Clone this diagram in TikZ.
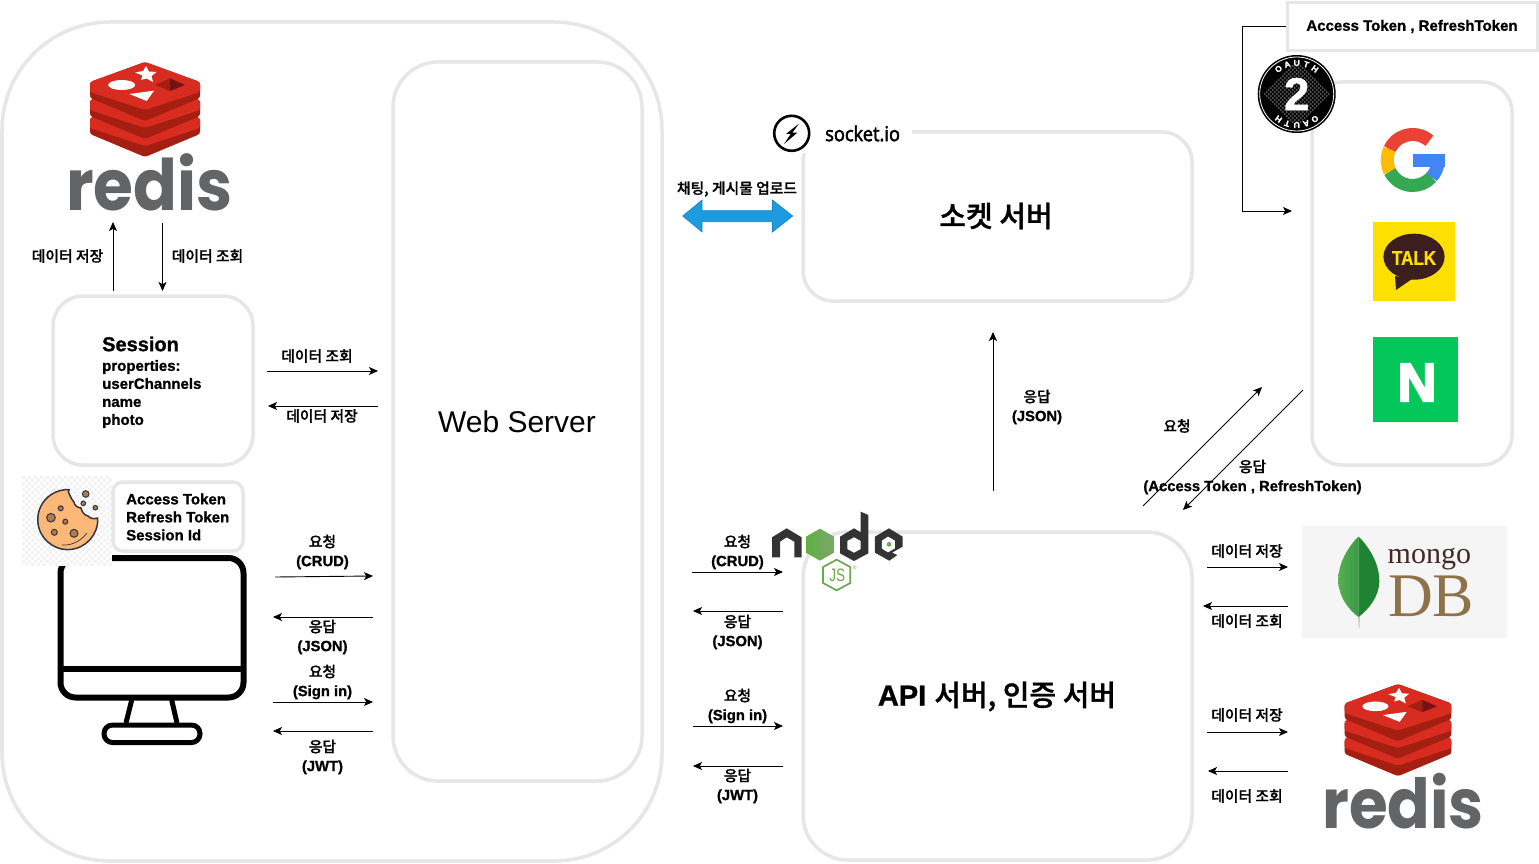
\documentclass[tikz,border=0pt]{standalone}
\usepackage{fontspec}
\usepackage{graphicx}
\usetikzlibrary{arrows.meta,calc}
\setmainfont{Liberation Sans}[BoldFeatures={FakeBold=1}]
\newfontfamily\kr{Noto Sans CJK KR}[BoldFont={Noto Sans CJK KR Medium},BoldFeatures={FakeBold=1}]
\newfontfamily\popp{Poppins}
\newfontfamily\sock{Open Sans}[FakeBold=2.5]
\newfontfamily\serifl{Liberation Serif}
\newfontfamily\nfont{Liberation Sans Bold}[FakeBold=4]
\newcommand{\fs}[2]{\fontsize{#1}{#2}\selectfont}
\definecolor{boxgrey}{HTML}{E6E6E6}
\definecolor{rred}{HTML}{D82C20}
\definecolor{rdark}{HTML}{A41E11}
\definecolor{rdarker}{HTML}{741113}
\definecolor{rgrey}{HTML}{636466}
\definecolor{nodedark}{HTML}{333333}
\definecolor{nodegreen}{HTML}{6BA84F}
\definecolor{nodeleft}{HTML}{5DB13F}
\definecolor{noderight}{HTML}{7FA56E}
\definecolor{chip}{HTML}{B57A4A}
\definecolor{cookieline}{HTML}{2F3542}
\definecolor{cookiefill}{HTML}{FDB777}
\definecolor{kyellow}{HTML}{FCE000}
\definecolor{kbrown}{HTML}{3C1E1E}
\definecolor{ngreen}{HTML}{03C75A}
\definecolor{mbg}{HTML}{F5F5F5}
\definecolor{mbrown}{HTML}{3F2A26}
\definecolor{mtan}{HTML}{8E7349}
\definecolor{leafl}{HTML}{58AE52}
\definecolor{leafm}{HTML}{3A9A44}
\definecolor{leafr}{HTML}{1F8334}
\definecolor{arrowblue}{HTML}{1C9CDE}
\tikzset{
  x=1pt,y=-1pt,
  roundbox/.style={draw=boxgrey,line width=3.5pt,fill=none},
  conn/.style={draw=black,line width=0.9pt,-{Stealth[length=9pt,width=8pt,inset=2.2pt]}},
  lbl/.style={inner sep=0pt,align=center,yshift=-1pt,font=\fs{14.8}{19}\bfseries},
  lblone/.style={inner sep=0pt,align=center,font=\fs{14.8}{19}\bfseries},
  leftlbl/.style={inner sep=0pt,align=left,anchor=west,font=\fs{15}{18}\bfseries},
  redistext/.style={inner sep=0pt,anchor=base,text=rgrey},
}
\newcommand{\arr}[5]{\coordinate (#1a) at (#2,#3);\coordinate (#1b) at (#4,#5);\draw[conn] (#1a) -- (#1b);}
\newcommand{\rediscube}[3]{%
\begin{scope}[shift={(#1,#2)},scale=#3]
  \foreach \d in {36,18,0}{
    \fill[rdark,rounded corners=2.5pt] (0,\d-1) -- (55,\d+19) -- (55,\d+35) -- (0,\d+58) -- (-55,\d+35) -- (-55,\d+19) -- cycle;
    \fill[rred,rounded corners=2.5pt] (0,\d-1) -- (55,\d+19) -- (55,\d+29) -- (0,\d+47) -- (-55,\d+29) -- (-55,\d+19) -- cycle;
  }
  \fill[white] (-23.3,22) ellipse (13.5 and 5);
  \fill[white] (-15.7,31) -- (9,27.7) -- (1.7,38) -- cycle;
  \fill[white] (1,3) -- (4,8.5) -- (11.5,9) -- (6.5,13) -- (8,19) -- (1.5,15.5) -- (-4,17) -- (-2.5,12.5) -- (-10,9.5) -- (-2,8) -- cycle;
  \fill[rdark] (10,22) -- (25,15.3) -- (25,28) -- cycle;
  \fill[rdarker] (25,15.3) -- (40,22) -- (25,28) -- cycle;
\end{scope}}
\begin{document}
\begin{tikzpicture}
\useasboundingbox (0,0) rectangle (1539,864);
\fill[white] (0,0) rectangle (1539,864);

% main rounded containers
\draw[roundbox,rounded corners=108pt] (2,22) rectangle (662,861);
\draw[roundbox,rounded corners=45pt] (393,62) rectangle (642,781);
\draw[roundbox,rounded corners=30pt] (53,296) rectangle (253,465);
\draw[roundbox,rounded corners=30pt] (803,132) rectangle (1192,301);
\draw[roundbox,rounded corners=45pt] (803,532) rectangle (1192,860);
\draw[roundbox,rounded corners=30pt] (1312,82) rectangle (1512,465);

% monitor
\draw[line width=6pt,rounded corners=15pt] (60.5,558) rectangle (243.5,697.5);
\draw[line width=6.5pt] (60,669) -- (244,669);
\draw[line width=5pt] (131.7,700) -- (126,723);
\draw[line width=5pt] (171.7,700) -- (177,723);
\draw[line width=5pt,rounded corners=8.5pt] (104,725) rectangle (200,742.5);

% cookie background (checker)
\fill[white] (22,476) rectangle (112,566);
\foreach \i in {0,...,29}{\foreach \j in {0,...,29}{
  \pgfmathparse{int(mod(\i+\j,2))}
  \ifnum\pgfmathresult=0 \fill[black!5] (22+3*\i,476+3*\j) rectangle ++(3,3);\fi
}}
% cookie
\draw[cookieline,fill=cookiefill,line width=1.5pt,line join=round]
  (68.3,491.7) .. controls (70,496) and (72,500) .. (74,502)
  .. controls (74,505) and (78,508) .. (81,508)
  .. controls (82,512) and (84,515) .. (88,516)
  .. controls (91,519) and (94,519) .. (97.7,518)
  arc[start angle=3,end angle=-273,radius=30pt] -- cycle;
\foreach \x/\y/\r in {51/517.7/4.3,60.7/508.3/2.5,65.3/521.7/2.5,54.3/532.3/3,74/533.3/4,85.7/494/3.3,83.3/503.3/2.3,95.3/507.7/2.3}{
  \draw[cookieline,fill=chip,line width=1pt] (\x,\y) circle[radius=\r];
}
\draw[cookieline,line width=.7pt] (62,545) .. controls (72,546) and (82,540) .. (87,533);

% token box
\draw[roundbox,fill=white,rounded corners=10pt] (113,482) rectangle (243,551);
\node[leftlbl] (tokens) at (126,517) {Access Token\\Refresh Token\\Session Id};

% session text
\node[inner sep=0pt,anchor=west,font=\fs{20}{24}\bfseries] (sessiontitle) at (102,344) {Session};
\node[leftlbl] (sessionprops) at (102,394) {properties:\\userChannels\\name\\photo};

% redis logos
\rediscube{145}{63}{1}
\node[redistext,font=\popp\bfseries\fs{71}{74}] (redisa) at (149.5,210) {\scalebox{.91}[1]{redis}};
\rediscube{1398}{685}{.97}
\node[redistext,font=\popp\bfseries\fs{69}{74}] (redisb) at (1403,828) {\scalebox{.91}[1]{redis}};

% connectors, left part
\arr{ra}{113}{291}{113}{222}
\arr{rb}{162.5}{223}{162.5}{291}
\node[lblone] (l1) at (67.5,256) {\kr 데이터 저장};
\node[lblone] (l2) at (207.5,256) {\kr 데이터 조회};
\arr{sa}{267}{371}{378}{371}
\arr{sb}{378}{406}{268}{406}
\node[lblone] (l3) at (317,356) {\kr 데이터 조회};
\node[lblone] (l4) at (322,416) {\kr 데이터 저장};
\arr{ca}{275}{577}{373}{576}
\arr{cb}{373}{617}{273}{617}
\arr{cc}{273}{702}{373}{702}
\arr{cd}{373}{731}{273}{731}
\node[lbl] (l5) at (322.5,551) {{\kr 요청}\\(CRUD)};
\node[lbl] (l6) at (322.5,636) {{\kr 응답}\\(JSON)};
\node[lbl] (l7) at (322.5,681) {{\kr 요청}\\(Sign in)};
\node[lbl] (l8) at (322.5,756) {{\kr 응답}\\(JWT)};

% centre labels & arrows
\node[inner sep=0pt,font=\fs{30}{34}] (web) at (517,422) {Web Server};
\arr{aa}{692}{572}{783}{572}
\arr{ab}{783}{611}{693}{611}
\arr{ac}{693}{726}{783}{726}
\arr{ad}{783}{766}{693}{766}
\node[lbl] (l9) at (737.5,551) {{\kr 요청}\\(CRUD)};
\node[lbl] (l10) at (737.5,631) {{\kr 응답}\\(JSON)};
\node[lbl] (l11) at (737.5,705) {{\kr 요청}\\(Sign in)};
\node[lbl] (l12) at (737.5,785) {{\kr 응답}\\(JWT)};

% blue double arrow
\node[lblone] (l13) at (737,189) {\kr 채팅, 게시물 업로드};
\draw[fill=arrowblue,draw=arrowblue!85!black,line width=.6pt]
  (682.7,216) -- (702,200) -- (702,210.7) -- (772.5,210.7) -- (772.5,200) -- (792.7,216)
  -- (772.5,232) -- (772.5,221.7) -- (702,221.7) -- (702,232) -- cycle;

% socket.io logo (white ground hides the box corner)
\fill[white] (768,112) rectangle (912,153);
\draw[black,line width=2.6pt] (791.7,133.3) circle[radius=17.5];
\fill[black] (799.3,123.3) -- (786,134) -- (790.7,134) -- (784,144) -- (797.3,132.7) -- (792.3,132.7) -- cycle;
\node[inner sep=0pt,anchor=west,font=\sock\fs{20.5}{24}] (socket) at (825,133.5) {\scalebox{.89}[1]{socket.io}};
\node[inner sep=0pt,font=\fs{29}{34}\bfseries] (sockserver) at (996,216) {\kr 소켓 서버};

\arr{ua}{993}{491}{993}{332}
\node[lbl] (l14) at (1037,406) {{\kr 응답}\\(JSON)};

% node.js logo
\begin{scope}[shift={(760,500)},x=.3333pt,y=-.3333pt]
  \fill[nodedark] (36,112) -- (80,85) -- (125,112) -- (125,172) -- (103,172) -- (103,125) -- (80,112) -- (60,125) -- (60,172) -- (36,172) -- cycle;
  \shade[left color=nodeleft,right color=noderight] (180,86) -- (222,110) -- (222,158) -- (180,182) -- (138,158) -- (138,110) -- cycle;
  \fill[nodedark] (302,35) -- (325,45) -- (325,160) -- (282,183) -- (240,160) -- (240,110) -- (282,85) -- (302,97) -- cycle;
  \fill[white] (282,112) -- (302,123) -- (302,147) -- (282,158) -- (262,147) -- (262,123) -- cycle;
  \fill[nodedark] (345,110) -- (387,85) -- (428,110) -- (428,140) -- (396,158) -- (412,165) -- (388,182) -- (345,158) -- cycle;
  \fill[white] (384,110) -- (405,122) -- (405,145) -- (384,157) -- (366,146) -- (366,122) -- cycle;
  \fill[nodegreen] (387,133) circle[radius=7];
  \draw[nodegreen,line width=1.7pt,fill=white,line join=round] (230,179) -- (271,201) -- (271,249) -- (230,271) -- (189,249) -- (189,201) -- cycle;
  \node[inner sep=0pt,text=nodegreen,font=\fs{18}{20}] (js) at (232,226) {\scalebox{.75}[1]{JS}};
  \node[inner sep=0pt,text=nodegreen,font=\fs{5}{6}] (jsreg) at (284,203) {®};
\end{scope}

\node[inner sep=0pt,font=\fs{29}{34}\bfseries] (apiserver) at (997,696.5) {API {\kr 서버, 인증 서버}};

% right-side arrows
\arr{da}{1207}{567}{1288}{567}
\arr{db}{1288}{606}{1203}{606}
\arr{dc}{1207}{732}{1288}{732}
\arr{dd}{1288}{771}{1208}{771}
\node[lblone] (l15) at (1247,551) {\kr 데이터 저장};
\node[lblone] (l16) at (1247,621) {\kr 데이터 조회};
\node[lblone] (l17) at (1247,715) {\kr 데이터 저장};
\node[lblone] (l18) at (1247,796) {\kr 데이터 조회};

% diagonal arrows
\arr{ga}{1143}{506}{1262}{387}
\arr{gb}{1303}{390}{1183}{510}
\node[lblone] (l19) at (1177,426) {\kr 요청};
\node[lbl] (l20) at (1252.5,476) {{\kr 응답}\\(Access Token , RefreshToken)};

% access token rectangle and bracket connector
\node[draw=boxgrey,line width=3pt,fill=white,minimum width=250pt,minimum height=48pt,inner sep=0pt,font=\fs{15}{18}\bfseries] (access) at (1412,26.5) {\raisebox{-3pt}{Access Token , RefreshToken}};
\coordinate (bracketend) at (1292,211);
\draw[conn] (access.west) -- (1242,26.5) -- (1242,211) -- (bracketend);

% oauth badge
\begin{scope}[shift={(1296.7,94)}]
  \fill[black] (0,0) circle[radius=39];
  \draw[white,line width=.8pt] (0,0) circle[radius=37];
  \begin{scope}
    \clip (-33,0) -- (0,-33) -- (33,0) -- (0,33) -- cycle;
    \fill[black!65] (-33,-33) rectangle (33,33);
    \foreach \k in {-66,-62,...,66}{
      \draw[black,line width=.9pt] (\k-40,-40) -- (\k+40,40);
      \draw[black,line width=.9pt] (\k-40,40) -- (\k+40,-40);
    }
  \end{scope}
  \node[inner sep=0pt,text=white,font=\fs{46}{48}\bfseries] (two) at (0,0) {2};
  \foreach \c [count=\i] in {O,A,U,T,H}{
    \pgfmathsetmacro{\ta}{90+(3-\i)*18}
    \pgfmathsetmacro{\tb}{270+(3-\i)*18}
    \node[inner sep=0pt,text=white,rotate=\ta-90,font=\fs{8.5}{10}\bfseries] (oat\i) at (\ta:31pt) {\c};
    \node[inner sep=0pt,text=white,rotate=\tb-90,font=\fs{8.5}{10}\bfseries] (oab\i) at (\tb:31pt) {\c};
  }
\end{scope}

% google
\coordinate (gc) at (1412.7,160);
\draw[line width=13pt,color={rgb,255:red,234;green,67;blue,53}] (gc) ++(49:25.5pt) arc[start angle=49,end angle=155,radius=25.5pt];
\draw[line width=13pt,color={rgb,255:red,251;green,188;blue,5}] (gc) ++(155:25.5pt) arc[start angle=155,end angle=207,radius=25.5pt];
\draw[line width=13pt,color={rgb,255:red,52;green,168;blue,83}] (gc) ++(207:25.5pt) arc[start angle=207,end angle=318,radius=25.5pt];
\draw[line width=13pt,color={rgb,255:red,66;green,133;blue,244}] (gc) ++(318:25.5pt) arc[start angle=318,end angle=358,radius=25.5pt];
\fill[color={rgb,255:red,66;green,133;blue,244}] (1413,154) rectangle (1444.6,167);

% kakao
\fill[kyellow] (1373,222) rectangle (1455,301);
\fill[kbrown] (1414,256.7) ellipse (30.6 and 23);
\fill[kbrown] (1395,276) -- (1396,290) -- (1412,279) -- cycle;
\node[inner sep=0pt,text=kyellow,font=\fs{20}{22}\bfseries] (talk) at (1414,258) {\scalebox{.85}[1]{TALK}};

% naver
\fill[ngreen] (1373,337) rectangle (1458,422);
\node[inner sep=0pt,text=white,font=\nfont\fs{54}{60}] (naver) at (1417,382.5) {N};

% mongodb
\fill[mbg] (1302,526) rectangle (1507,638);
\fill[mtan!40!white] (1357.8,610) -- (1360.2,610) -- (1359.5,628) -- (1358.6,628) -- cycle;
\shade[left color=leafl,right color=leafm] (1358.5,536.5) .. controls (1348,547) and (1338,563) .. (1338.3,581) .. controls (1338.5,597) and (1349,610) .. (1358.5,617) -- cycle;
\fill[leafr] (1358.5,536.5) .. controls (1369,547) and (1379.3,563) .. (1379.3,581) .. controls (1379.3,597) and (1368,610) .. (1358.5,617) -- cycle;
\node[inner sep=0pt,anchor=base west,text=mbrown,font=\serifl\fs{30}{32}] (mongo) at (1387.5,563) {mongo};
\node[inner sep=0pt,anchor=base west,text=mtan,font=\serifl\fs{62}{64}] (db) at (1388,616.5) {DB};
\end{tikzpicture}
\end{document}
